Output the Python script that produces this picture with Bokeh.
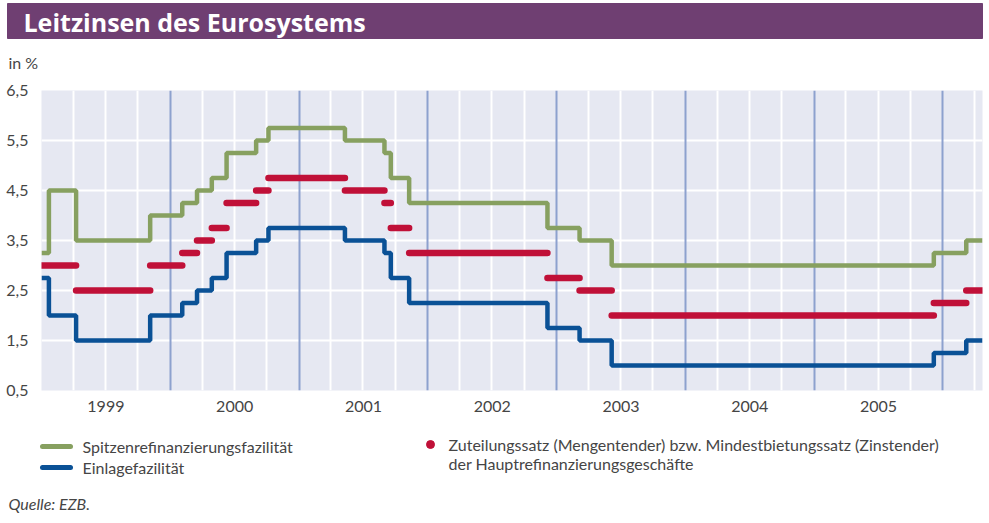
import pandas as pd
from bokeh.plotting import figure
from bokeh.layouts import column, row
from bokeh.models import Range1d, FixedTicker, CustomJSTickFormatter, Grid, ColumnDataSource
from bokeh.core.properties import value
from bokeh.embed import file_html
from bokeh.resources import INLINE

# ---------------- data ----------------
title = "Leitzinsen des Eurosystems"
unit_label = "in %"
x_start = "1999-01-01"
x_end = "2006-04-23"
years = [1999, 2000, 2001, 2002, 2003, 2004, 2005]
y_ticks = [0.5, 1.5, 2.5, 3.5, 4.5, 5.5, 6.5]

change_dates = ["1999-01-01", "1999-01-22", "1999-04-09", "1999-11-05", "2000-02-04",
                "2000-03-17", "2000-04-28", "2000-06-09", "2000-09-01", "2000-10-06",
                "2001-05-11", "2001-08-31", "2001-09-18", "2001-11-09", "2002-12-06",
                "2003-03-07", "2003-06-06", "2005-12-06", "2006-03-08"]
spitzen = [3.25, 4.50, 3.50, 4.00, 4.25, 4.50, 4.75, 5.25, 5.50, 5.75,
           5.50, 5.25, 4.75, 4.25, 3.75, 3.50, 3.00, 3.25, 3.50]
einlage = [2.75, 2.00, 1.50, 2.00, 2.25, 2.50, 2.75, 3.25, 3.50, 3.75,
           3.50, 3.25, 2.75, 2.25, 1.75, 1.50, 1.00, 1.25, 1.50]

hrg_dates = ["1999-01-01", "1999-04-09", "1999-11-05", "2000-02-04", "2000-03-17",
             "2000-04-28", "2000-06-09", "2000-09-01", "2000-10-06", "2001-05-11",
             "2001-08-31", "2001-09-18", "2001-11-09", "2002-12-06", "2003-03-07",
             "2003-06-06", "2005-12-06", "2006-03-08"]
hrg = [3.00, 2.50, 3.00, 3.25, 3.50, 3.75, 4.25, 4.50, 4.75, 4.50,
       4.25, 3.75, 3.25, 2.75, 2.50, 2.00, 2.25, 2.50]

label_spitzen = "Spitzenrefinanzierungsfazilität"
label_einlage = "Einlagefazilität"
label_hrg_1 = "Zuteilungssatz (Mengentender) bzw. Mindestbietungssatz (Zinstender)"
label_hrg_2 = "der Hauptrefinanzierungsgeschäfte"
source_note = "Quelle: EZB."

# ---------------- styles ----------------
FONT = "Lato"
TITLE_FONT = "Open Sans"
TXT = "#454545"
PURPLE = "#6F3F72"
GREEN = "#87A060"
BLUE = "#0A5196"
RED = "#C01038"
BG = "#E6E8F2"
YEARLINE = "#8DA1CE"
W = 989


def dec_year(s):
    d = pd.Timestamp(s)
    n = 366 if d.is_leap_year else 365
    return d.year + (d.dayofyear - 1) / n


X0, X1 = dec_year(x_start), dec_year(x_end)


def blank(height):
    f = figure(width=W, height=height, x_range=Range1d(0, W), y_range=Range1d(height, 0),
               output_backend="svg", toolbar_location=None,
               x_axis_location=None, y_axis_location=None,
               min_border=0, outline_line_color=None,
               background_fill_color="white", border_fill_color="white")
    f.grid.visible = False
    return f


# ---------------- header (page y 0..75) ----------------
header = blank(75)
header.quad(left=[7], right=[982], top=[3], bottom=[38], color=PURPLE)
header.text(x=[23], y=[21], text=[title], text_font=value(TITLE_FONT), text_font_style="bold",
            text_font_size="25px", text_color="white", text_baseline="middle")
header.text(x=[8], y=[62], text=[unit_label], text_font=value(FONT),
            text_font_size="16px", text_color=TXT, text_baseline="middle")

# ---------------- main chart (page y 75..420) ----------------
p = figure(width=W, height=345, x_range=Range1d(X0, X1), y_range=Range1d(0.5, 6.5),
           output_backend="svg", toolbar_location=None,
           min_border_left=41, min_border_right=7, min_border_top=15, min_border_bottom=30,
           background_fill_color=BG, border_fill_color="white", outline_line_color=None)

quarter_ticks = []
for y in range(1999, 2007):
    for m in (4, 7, 10):
        quarter_ticks.append(dec_year(f"{y}-{m:02d}-01"))
year_lines = [float(y) for y in range(2000, 2007)]

p.xgrid.ticker = FixedTicker(ticks=quarter_ticks)
p.xgrid.grid_line_color = "white"
p.xgrid.grid_line_width = 2
p.ygrid.ticker = FixedTicker(ticks=y_ticks)
p.ygrid.grid_line_color = "white"
p.ygrid.grid_line_width = 2
p.add_layout(Grid(dimension=0, ticker=FixedTicker(ticks=year_lines),
                  grid_line_color=YEARLINE, grid_line_width=2))

xs = [dec_year(d) for d in change_dates] + [X1]
p.step(x=xs, y=spitzen + [spitzen[-1]], mode="after", line_color=GREEN, line_width=4.5)
p.step(x=xs, y=einlage + [einlage[-1]], mode="after", line_color=BLUE, line_width=4.5)

hx = [dec_year(d) for d in hrg_dates]
seg = ColumnDataSource(dict(x0=hx, x1=hx[1:] + [X1], y=hrg))
p.segment(x0="x0", y0="y", x1="x1", y1="y", source=seg, line_color=RED,
          line_width=6.5, line_cap="round")

p.xaxis.ticker = FixedTicker(ticks=[y + 0.5 for y in years])
p.xaxis.formatter = CustomJSTickFormatter(code="return Math.floor(tick).toString();")
p.yaxis.ticker = FixedTicker(ticks=y_ticks)
p.yaxis.formatter = CustomJSTickFormatter(code="return tick.toFixed(1).replace('.', ',');")
for ax in (p.xaxis, p.yaxis):
    ax.axis_line_color = None
    ax.major_tick_line_color = None
    ax.minor_tick_line_color = None
    ax.major_tick_out = 0
    ax.major_tick_in = 0
    ax.minor_tick_out = 0
    ax.major_label_text_font = FONT
    ax.major_label_text_font_size = "16px"
    ax.major_label_text_color = TXT
p.xaxis.major_label_standoff = 10
p.yaxis.major_label_standoff = 13

# ---------------- footer: legend + source (page y 420..523) ----------------
foot = blank(103)
foot.segment(x0=[42], y0=[26], x1=[70], y1=[26], line_color=GREEN, line_width=5, line_cap="round")
foot.segment(x0=[42], y0=[47], x1=[70], y1=[47], line_color=BLUE, line_width=5, line_cap="round")
foot.scatter(x=[430], y=[24], size=8, color=RED)
foot.text(x=[82, 82, 448, 448], y=[26, 47, 24, 43],
          text=[label_spitzen, label_einlage, label_hrg_1, label_hrg_2],
          text_font=value(FONT), text_font_size="16px", text_color=TXT, text_baseline="middle")
foot.text(x=[8], y=[83], text=[source_note], text_font=value(FONT), text_font_style="italic",
          text_font_size="16px", text_color=TXT, text_baseline="middle")

layout = column(row(header), p, row(foot), spacing=0)
open("out.html", "w").write(file_html(layout, INLINE))
